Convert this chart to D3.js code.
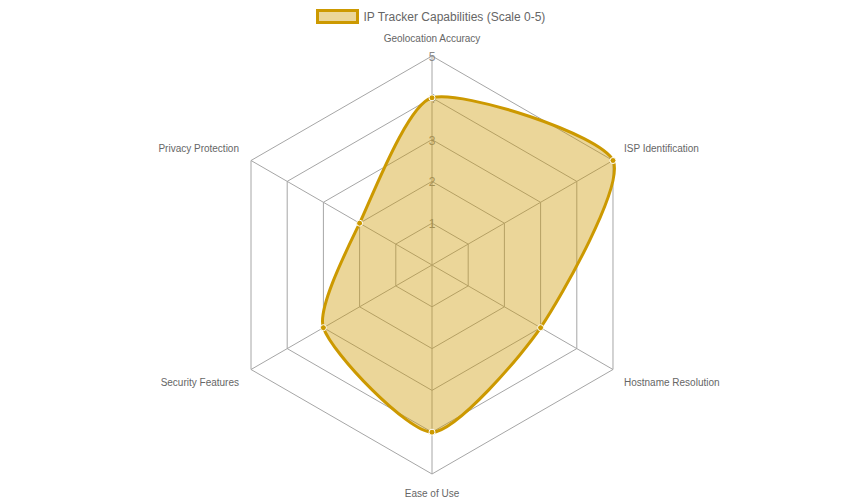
<!DOCTYPE html>
<html>
<head>
<meta charset="utf-8">
<script src="https://cdn.jsdelivr.net/npm/d3@7"></script>
<style>
html,body{margin:0;padding:0;background:#fff;}
svg{display:block;}
text{font-family:"Liberation Sans",Arial,sans-serif;}
</style>
</head>
<body>
<svg id="chart" width="864" height="500"></svg>
<script>
const categories = ["Geolocation Accuracy","ISP Identification","Hostname Resolution","Ease of Use","Security Features","Privacy Protection"];
const values = [4,5,3,4,3,2];
const seriesName = "IP Tracker Capabilities (Scale 0-5)";
const tickValues = [1,2,3,4,5];

const W=864,H=500, cx=432, cy=265, R=209;
const stroke="#cc9900", fill="rgba(204,153,0,0.4)", grid="#a6a6a6", labelColor="#666";
const tension=0.22;

const svg=d3.select("#chart");
const r=d3.scaleLinear().domain([0,5]).range([0,R]);
const ang=d3.scaleLinear().domain([0,categories.length]).range([0,2*Math.PI]);
const pt=(i,v)=>[cx+r(v)*Math.sin(ang(i)), cy-r(v)*Math.cos(ang(i))];

// grid polygons
tickValues.forEach(t=>{
  svg.append("polygon")
    .attr("points",categories.map((c,i)=>pt(i,t).join(",")).join(" "))
    .attr("fill","none").attr("stroke",grid).attr("stroke-width",1);
});
// angle lines
categories.forEach((c,i)=>{
  const p=pt(i,5);
  svg.append("line").attr("x1",cx).attr("y1",cy).attr("x2",p[0]).attr("y2",p[1])
    .attr("stroke",grid).attr("stroke-width",1);
});

// tick labels (drawn under the dataset)
tickValues.forEach(t=>{
  svg.append("text").attr("x",cx).attr("y",cy-r(t)+1).attr("text-anchor","middle")
    .attr("dominant-baseline","central").attr("font-size",12).attr("fill","#8a8a8a").text(t);
});

// point labels
categories.forEach((c,i)=>{
  const p=pt(i,5);
  const a=ang(i);
  const s=Math.sin(a), co=Math.cos(a);
  let anchor="middle", x=p[0], y=p[1];
  if (Math.abs(s)<0.01){ y = co>0 ? p[1]-18 : p[1]+19; }
  else { anchor = s>0 ? "start":"end"; x = p[0] + (s>0?11:-12); y = p[1]-25*co; }
  svg.append("text").attr("x",x).attr("y",y).attr("text-anchor",anchor)
    .attr("dominant-baseline","central").attr("font-size",10).attr("fill",labelColor).text(c);
});

// spline (Chart.js style) closed path
const pts=values.map((v,i)=>pt(i,v));
const n=pts.length;
const cps=pts.map((cur,i)=>{
  const prev=pts[(i-1+n)%n], next=pts[(i+1)%n];
  const d01=Math.hypot(cur[0]-prev[0],cur[1]-prev[1]);
  const d12=Math.hypot(next[0]-cur[0],next[1]-cur[1]);
  let s01=d01/(d01+d12), s12=d12/(d01+d12);
  const fa=tension*s01, fb=tension*s12;
  return {
    p:[cur[0]-fa*(next[0]-prev[0]), cur[1]-fa*(next[1]-prev[1])],
    n:[cur[0]+fb*(next[0]-prev[0]), cur[1]+fb*(next[1]-prev[1])]
  };
});
const path=d3.path();
path.moveTo(pts[0][0],pts[0][1]);
for(let i=0;i<n;i++){
  const j=(i+1)%n;
  path.bezierCurveTo(cps[i].n[0],cps[i].n[1],cps[j].p[0],cps[j].p[1],pts[j][0],pts[j][1]);
}
path.closePath();
svg.append("path").attr("d",path.toString()).attr("fill",fill).attr("stroke",stroke).attr("stroke-width",3).attr("stroke-linejoin","round");

// points
svg.selectAll("circle.pt").data(values).enter().append("circle")
  .attr("cx",(v,i)=>pt(i,v)[0]).attr("cy",(v,i)=>pt(i,v)[1]).attr("r",3)
  .attr("fill",stroke).attr("stroke","#fff").attr("stroke-width",1);

// legend
svg.append("rect").attr("x",317.5).attr("y",10.5).attr("width",40).attr("height",12)
  .attr("fill",fill).attr("stroke",stroke).attr("stroke-width",3);
svg.append("text").attr("x",363.5).attr("y",16.5).attr("dominant-baseline","central")
  .attr("font-size",12).attr("fill",labelColor).text(seriesName);
</script>
</body>
</html>
